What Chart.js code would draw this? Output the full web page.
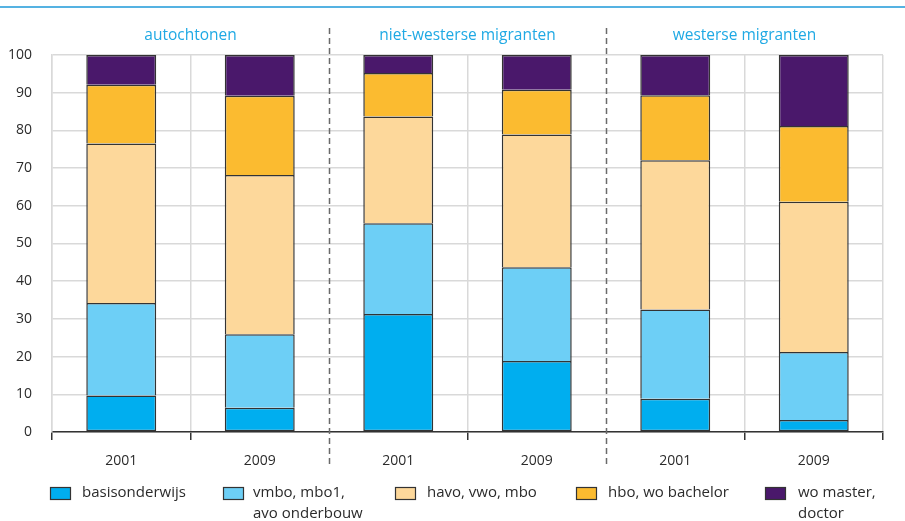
<!DOCTYPE html>
<html>
<head>
<meta charset="utf-8">
<script src="https://cdn.jsdelivr.net/npm/chart.js@4.4.1/dist/chart.umd.min.js"></script>
<style>
  html, body { margin: 0; padding: 0; background: #fff; }
  #wrap { width: 905px; height: 521px; position: relative; }
</style>
</head>
<body>
<div id="wrap"><canvas id="c" width="905" height="521"></canvas></div>
<script>
// ---- data ----
const years = ["2001", "2009", "2001", "2009", "2001", "2009"];
const groups = ["autochtonen", "niet-westerse migranten", "westerse migranten"];
const seriesNames = [["basisonderwijs"], ["vmbo, mbo1,", "avo onderbouw"], ["havo, vwo, mbo"], ["hbo, wo bachelor"], ["wo master,", "doctor"]];
const basisonderwijs = [9.7, 6.4, 31.3, 18.8, 8.8, 3.2];
const vmboMbo1 = [24.5, 19.5, 24.1, 24.9, 23.7, 18.0];
const havoVwoMbo = [42.3, 42.3, 28.3, 35.2, 39.6, 39.9];
const hboBachelor = [15.6, 21.0, 11.5, 11.9, 17.2, 20.1];
const woMasterDoctor = [7.9, 10.8, 4.8, 9.2, 10.7, 18.8];
const yTicks = [0, 10, 20, 30, 40, 50, 60, 70, 80, 90, 100];

const colors = ["#00aeef", "#6dcff6", "#fdd89b", "#fbbb30", "#4a186b"];
const FONT = "'Open Sans', 'Noto Sans', sans-serif";

const seriesValues = [basisonderwijs, vmboMbo1, havoVwoMbo, hboBachelor, woMasterDoctor];
const datasets = seriesValues.map((vals, i) => ({
  label: seriesNames[i].join(" "),
  data: vals,
  backgroundColor: colors[i],
  borderColor: "#333333",
  borderWidth: { left: 1.5, right: 1.5, top: 1.5, bottom: i === 0 ? 1.5 : 0 },
  borderSkipped: false,
  categoryPercentage: 1,
  barPercentage: 0.505
}));

const decor = {
  id: "decor",
  beforeDraw(chart) {
    const ctx = chart.ctx;
    ctx.save();
    ctx.fillStyle = "#fff";
    ctx.fillRect(0, 0, chart.width, chart.height);
    ctx.strokeStyle = "#55b2e2";
    ctx.lineWidth = 2;
    ctx.beginPath();
    ctx.moveTo(0, 7); ctx.lineTo(chart.width, 7);
    ctx.stroke();
    ctx.restore();
  },
  afterDraw(chart) {
    const ctx = chart.ctx;
    const x = chart.scales.x;
    ctx.save();
    ctx.strokeStyle = "#6a6a6a";
    ctx.lineWidth = 1.5;
    ctx.setLineDash([6, 4]);
    [1.5, 3.5].forEach(v => {
      const px = Math.round(x.getPixelForValue(v)) + 0.5;
      ctx.beginPath();
      ctx.moveTo(px, 28); ctx.lineTo(px, 468);
      ctx.stroke();
    });
    ctx.setLineDash([]);
    ctx.fillStyle = "#1fa9e4";
    ctx.font = "15.5px " + FONT;
    ctx.textAlign = "center";
    ctx.textBaseline = "middle";
    groups.forEach((g, i) => {
      const px = x.getPixelForValue(2 * i + 0.5);
      ctx.fillText(g, px, 36);
    });
    const boxX = [50, 223, 395, 576, 765];
    const textX = [82, 253, 427, 608, 798];
    ctx.font = "15px " + FONT;
    ctx.textAlign = "left";
    chart.data.datasets.forEach((ds, i) => {
      ctx.fillStyle = ds.backgroundColor;
      ctx.fillRect(boxX[i], 487, 20, 12);
      ctx.strokeStyle = "#333";
      ctx.lineWidth = 1.2;
      ctx.strokeRect(boxX[i] + 0.5, 487.5, 20, 12);
      ctx.fillStyle = "#2b2b2b";
      seriesNames[i].forEach((line, j) => {
        ctx.fillText(line, textX[i], 493 + j * 21);
      });
    });
    ctx.restore();
  }
};

new Chart(document.getElementById("c"), {
  type: "bar",
  data: { labels: years, datasets },
  options: {
    responsive: false,
    animation: false,
    layout: { padding: { top: 55, right: 22, left: 0, bottom: 0 } },
    plugins: { legend: { display: false }, tooltip: { enabled: false } },
    scales: {
      x: {
        stacked: true,
        offset: true,
        grid: {
          offset: true,
          color: (c) => (c.index === 2 || c.index === 4) ? "rgba(0,0,0,0)" : "#d9d9d9",
          tickColor: (c) => (c.index === 2 || c.index === 4) ? "rgba(0,0,0,0)" : "#333",
          lineWidth: 1.5,
          tickLength: 8,
          tickWidth: 1.5
        },
        border: { color: "#333", width: 1.5 },
        ticks: { color: "#2b2b2b", font: { family: FONT, size: 14 }, padding: 13, maxRotation: 0 },
        afterFit(s) { s.height = 89; }
      },
      y: {
        stacked: true,
        min: 0,
        max: 100,
        afterBuildTicks(s) { s.ticks = yTicks.map(v => ({ value: v })); },
        grid: { color: "#d9d9d9", lineWidth: 1.5, drawTicks: false },
        border: { color: "#d9d9d9", width: 1.5 },
        ticks: { color: "#2b2b2b", font: { family: FONT, size: 14 }, padding: 20 },
        afterFit(s) { s.width = 52; }
      }
    }
  },
  plugins: [decor]
});
</script>
</body>
</html>
